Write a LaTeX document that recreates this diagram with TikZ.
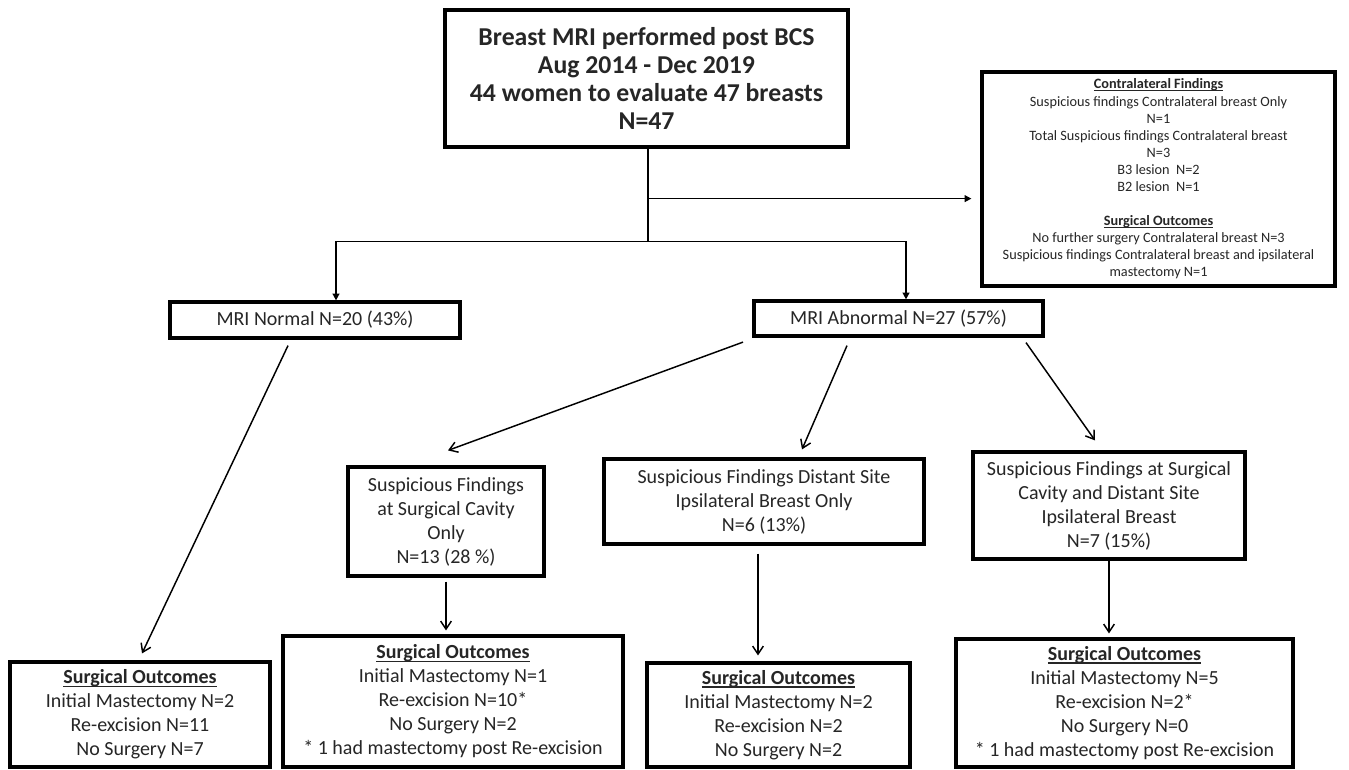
\documentclass[tikz,border=0pt]{standalone}
\usepackage{fontspec}
\setmainfont{Carlito}
\usetikzlibrary{arrows.meta,calc}
\newcommand{\myul}[1]{\setbox0\hbox{#1}\rlap{\rule[-0.16em]{\wd0}{0.075em}}\box0}
\begin{document}
\begin{tikzpicture}[x=0.75pt,y=-0.75pt,
  box/.style={draw, line width=2.4pt, inner sep=0pt, align=center, text=black!85},
  midtxt/.style={font=\fontsize{15}{18}\selectfont},
  bigtxt/.style={font=\fontsize{19.3}{20.8}\selectfont\bfseries},
  smalltxt/.style={font=\fontsize{10.7}{12.8}\selectfont},
  conn/.style={line width=1.1pt},
  barb/.style={line width=1.1pt, -{Straight Barb[length=6pt,width=8pt,line width=1.1pt]}},
  tri/.style={line width=1.1pt, -{Triangle[length=5pt,width=5pt]}}]
\useasboundingbox (0,0) rectangle (1349,769);
\fill[white] (0,0) rectangle (1349,769);
\clip (0,0) rectangle (1349,769);

\node[box, bigtxt, minimum width=302.25pt, minimum height=102.75pt] (top) at (646.5,78.5)
  {Breast MRI performed post BCS\\Aug 2014 - Dec 2019\\44 women to evaluate 47 breasts\\N=47};

\node[box, smalltxt, minimum width=264.75pt, minimum height=160.5pt] (contra) at (1158.5,179)
  {\myul{\textbf{Contralateral Findings}}\\
   Suspicious findings Contralateral breast Only\\
   N=1\\
   Total Suspicious findings Contralateral breast\\
   N=3\\
   B3 lesion\ \ N=2\\
   B2 lesion\ \ N=1\\[12.8pt]
   \myul{\textbf{Surgical Outcomes}}\\
   No further surgery Contralateral breast N=3\\
   Suspicious findings Contralateral breast and ipsilateral\\
   mastectomy N=1};

\node[box, midtxt, minimum width=217.5pt, minimum height=27pt] (normal) at (315,320)
  {MRI Normal N=20 (43\%)};
\node[box, midtxt, minimum width=216.75pt, minimum height=26.25pt] (abnormal) at (898.5,318.5)
  {MRI Abnormal N=27 (57\%)};

\node[box, midtxt, minimum width=147pt, minimum height=81.75pt] (a) at (446,521.5)
  {Suspicious Findings\\at Surgical Cavity\\Only\\N=13 (28 \%)};
\node[box, midtxt, minimum width=240pt, minimum height=63.75pt] (b) at (764,501.5)
  {Suspicious Findings Distant Site\\Ipsilateral Breast Only\\N=6 (13\%)};
\node[box, midtxt, minimum width=204pt, minimum height=80.25pt] (c) at (1109,505.5)
  {Suspicious Findings at Surgical\\Cavity and Distant Site\\Ipsilateral Breast\\N=7 (15\%)};

\node[box, midtxt, minimum width=195pt, minimum height=78.75pt] (s1) at (140,714.5)
  {\myul{\textbf{Surgical Outcomes}}\\Initial Mastectomy N=2\\Re-excision N=11\\No Surgery N=7};
\node[box, midtxt, minimum width=255pt, minimum height=98.25pt] (s2) at (453,701.5)
  {\myul{\textbf{Surgical Outcomes}}\\Initial Mastectomy N=1\\Re-excision N=10*\\No Surgery N=2\\* 1 had mastectomy post Re-excision};
\node[box, midtxt, minimum width=197.25pt, minimum height=78pt] (s3) at (778.5,715)
  {\myul{\textbf{Surgical Outcomes}}\\Initial Mastectomy N=2\\Re-excision N=2\\No Surgery N=2};
\node[box, midtxt, minimum width=252.75pt, minimum height=96pt] (s4) at (1124.5,703)
  {\myul{\textbf{Surgical Outcomes}}\\Initial Mastectomy N=5\\Re-excision N=2*\\No Surgery N=0\\* 1 had mastectomy post Re-excision};

% top connectors
\coordinate (split) at ($(top.south)+(1.5,93)$);
\coordinate (br) at ($(top.south)+(1.5,50)$);
\draw[conn] ($(top.south)+(1.5,0)$) -- (split);
\draw[tri] (split) -| ($(normal.north)+(21,0)$);
\draw[tri] (split) -| ($(abnormal.north)+(7.5,0)$);
\draw[tri] (br) -- ($(contra.west |- br)+(-9,0)$);

% diagonal / vertical connectors
\draw[barb] ($(normal.south)+(-27,6)$) -- ($(s1.north)+(2,-7)$);
\draw[barb] ($(abnormal.south)+(-155.5,4.5)$) -- ($(a.north)+(2,-15)$);
\draw[barb] ($(abnormal.south)+(-51.5,8)$) -- ($(b.north)+(38,-8)$);
\draw[barb] ($(abnormal.south)+(127.5,5)$) -- ($(c.north)+(-14,-10)$);
\draw[barb] ($(a.south)+(0,4)$) -- ($(s2.north -| a.south)+(0,-4)$);
\draw[barb] ($(b.south)+(-6,8)$) -- ($(s3.north)+(-20.5,-6)$);
\draw[barb] (c.south) -- ($(s4.north -| c.south)+(0,-4)$);
\end{tikzpicture}
\end{document}
